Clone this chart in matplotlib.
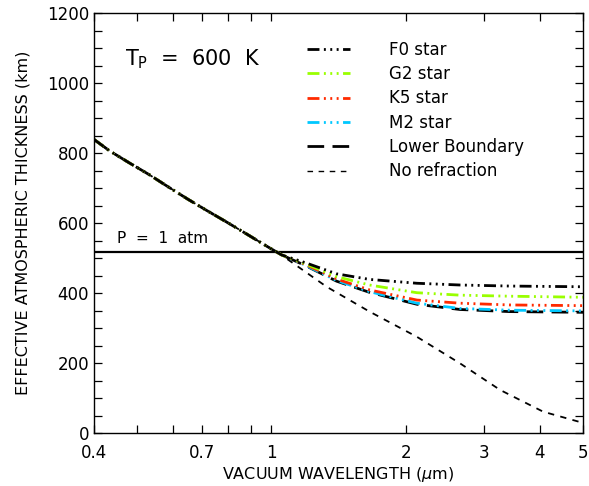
import numpy as np
import matplotlib
matplotlib.use("Agg")
from matplotlib import pyplot as plt

# shared part of all refracted curves (they overlap below ~1.1 micron)
wl_common = [0.40, 0.434, 0.48, 0.531, 0.586, 0.648, 0.716, 0.791, 0.874, 0.976, 1.054]
thick_common = [839, 806, 772, 739, 704, 669, 636, 604, 571, 534, 509]

# tails after the curves split
wl_tail = [1.19, 1.40, 1.66, 2.12, 2.65, 3.43, 5.0]
f0_tail = [487, 455, 439, 428, 423, 420, 418]
g2_tail = [484, 447, 423, 401, 394, 391, 388]
k5_tail = [482, 440, 409, 380, 371, 366, 364]
m2_tail = [480, 436, 404, 371, 356, 351, 349]
lower_tail = [479, 434, 402, 368, 353, 347, 345]

wl_noref = [1.08, 1.33, 1.66, 2.12, 2.65, 3.26, 4.07, 5.0]
noref_tail = [499, 418, 347, 275, 199, 123, 61, 29]

p_1atm = 517

xticks = [0.4, 0.5, 0.6, 0.7, 0.8, 0.9, 1, 2, 3, 4, 5]
xticklabels = ["0.4", "", "", "0.7", "", "", "1", "2", "3", "4", "5"]

plt.rcParams['font.family'] = ['DejaVu Sans']

fig = plt.figure(figsize=(5.89, 4.86), dpi=100)
ax = fig.add_axes([0.1596, 0.109, 0.8302, 0.864])

dash3dot = (0, (4.3, 1.6, 0.7, 1.6, 0.7, 1.6, 0.7, 1.6))
longdash = (0, (6, 3))

ax.axhline(p_1atm, color="black", lw=1.6)

# no refraction
ax.plot(wl_common + wl_noref, thick_common + noref_tail,
        color="black", lw=1.3, ls=(0, (3.5, 3.5)))

ax.plot(wl_common + wl_tail, thick_common + lower_tail, color="black", lw=2, ls=longdash)
ax.plot(wl_common + wl_tail, thick_common + m2_tail, color="#00c8ff", lw=2, ls=dash3dot)
ax.plot(wl_common + wl_tail, thick_common + k5_tail, color="#ff2a00", lw=2, ls=dash3dot)
ax.plot(wl_common + wl_tail, thick_common + g2_tail, color="#99ff00", lw=2, ls=dash3dot)
ax.plot(wl_common + wl_tail, thick_common + f0_tail, color="black", lw=2, ls=dash3dot)

# legend handles in the order of the reference
h_f0, = ax.plot([], [], color="black", lw=2, ls=dash3dot)
h_g2, = ax.plot([], [], color="#99ff00", lw=2, ls=dash3dot)
h_k5, = ax.plot([], [], color="#ff2a00", lw=2, ls=dash3dot)
h_m2, = ax.plot([], [], color="#00c8ff", lw=2, ls=dash3dot)
h_lb, = ax.plot([], [], color="black", lw=2, ls=longdash)
h_nr, = ax.plot([], [], color="black", lw=1, ls=(0, (4, 4)))
ax.legend([h_f0, h_g2, h_k5, h_m2, h_lb, h_nr],
          ["F0 star", "G2 star", "K5 star", "M2 star", "Lower Boundary", "No refraction"],
          frameon=False, fontsize=12, loc="upper left", bbox_to_anchor=(0.422, 0.95),
          handlelength=2.6, handletextpad=2.3, labelspacing=0.38, borderaxespad=0)

ax.text(0.063, 0.876, "T$_{\\rm P}$  =  600  K", transform=ax.transAxes, fontsize=15)
ax.text(0.047, 0.452, "P  =  1  atm", transform=ax.transAxes, fontsize=11)

ax.set_xscale("log")
ax.set_xlim(0.4, 5)
ax.set_ylim(0, 1200)
ax.set_xticks(xticks)
ax.set_xticklabels(xticklabels)
ax.xaxis.set_minor_locator(matplotlib.ticker.NullLocator())
ax.set_yticks(np.arange(0, 1201, 200))
ax.set_yticks(np.arange(0, 1201, 50), minor=True)
ax.tick_params(which="both", direction="in", top=True, right=True, length=6, width=0.9, labelsize=12)
ax.tick_params(axis="x", pad=8)
for s in ax.spines.values():
    s.set_linewidth(1)

ax.set_xlabel("VACUUM WAVELENGTH ($\\mu$m)", fontsize=11.5, labelpad=2)
ax.set_ylabel("EFFECTIVE ATMOSPHERIC THICKNESS (km)", fontsize=11.5, labelpad=12)

fig.savefig("out.png", dpi=100)
